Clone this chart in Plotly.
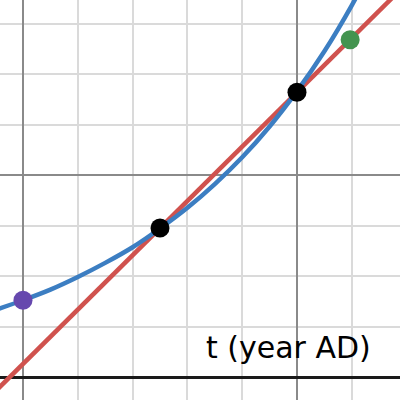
import plotly.graph_objects as go

# Blue curve samples
curve_x = [-0.5, 0, 0.5, 1, 1.5, 2, 2.5, 3, 3.5, 4, 4.5, 5, 5.5, 6, 6.5]
curve_y = [1.33, 1.52, 1.73, 1.98, 2.26, 2.57, 2.94, 3.35, 3.82, 4.35, 4.96, 5.66, 6.45, 7.36, 8.39]

# Red line endpoints
line_x = [-0.5, 7.0]
line_y = [-0.28, 7.79]

# Points
black_x = [2.5, 5.0]
black_y = [2.95, 5.64]
purple_x = [0.0]
purple_y = [1.52]
green_x = [5.97]
green_y = [6.68]

axis_label = "t (year AD)"

BLUE = "#3c7ec2"
RED = "#d0524e"
PURPLE = "#6648ae"
GREEN = "#43944f"
LIGHT = "#dadada"
DARK = "#8a8a8a"

fig = go.Figure()
fig.add_trace(go.Scatter(x=line_x, y=line_y, mode="lines",
                         line=dict(color=RED, width=4.5), hoverinfo="skip"))
fig.add_trace(go.Scatter(x=curve_x, y=curve_y, mode="lines",
                         line=dict(color=BLUE, width=4.5, shape="spline"), hoverinfo="skip"))
fig.add_trace(go.Scatter(x=purple_x, y=purple_y, mode="markers",
                         marker=dict(color=PURPLE, size=19, line=dict(width=0))))
fig.add_trace(go.Scatter(x=green_x, y=green_y, mode="markers",
                         marker=dict(color=GREEN, size=19, line=dict(width=0))))
fig.add_trace(go.Scatter(x=black_x, y=black_y, mode="markers",
                         marker=dict(color="#000000", size=19, line=dict(width=0))))

fig.add_annotation(x=3.30, y=0.20, xref="x", yref="y", text=axis_label,
                   showarrow=False, xanchor="left", yanchor="bottom",
                   font=dict(family="DejaVu Sans", size=30, color="#000000"))

fig.update_xaxes(range=[-0.4197, 6.8796], tick0=0, dtick=5, showgrid=True,
                 gridcolor=DARK, gridwidth=1.5,
                 minor=dict(dtick=1, tick0=0, showgrid=True, gridcolor=LIGHT, gridwidth=1.5),
                 zeroline=True, zerolinecolor=DARK, zerolinewidth=1.5,
                 showticklabels=False, ticks="", showline=False, fixedrange=True)
fig.update_yaxes(range=[-0.4554, 7.4653], tick0=0, dtick=4, showgrid=True,
                 gridcolor=DARK, gridwidth=1.5,
                 minor=dict(dtick=1, tick0=0, showgrid=True, gridcolor=LIGHT, gridwidth=1.5),
                 zeroline=True, zerolinecolor="#1a1a1a", zerolinewidth=3,
                 showticklabels=False, ticks="", showline=False, fixedrange=True)

fig.update_layout(width=400, height=400, margin=dict(l=0, r=0, t=0, b=0),
                  paper_bgcolor="white", plot_bgcolor="white", showlegend=False)

fig.write_html("out.html", config={"displayModeBar": False},
               post_script="document.body.style.margin='0';document.body.style.overflow='hidden';")
